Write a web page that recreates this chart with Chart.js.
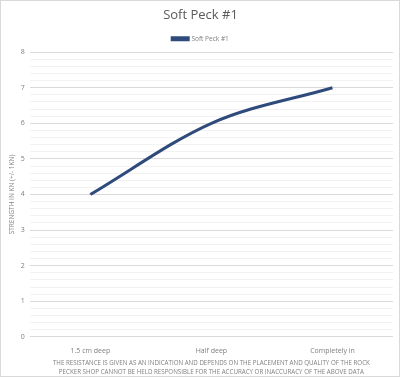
<!DOCTYPE html>
<html>
<head>
<meta charset="utf-8">
<script src="https://cdn.jsdelivr.net/npm/chart.js@4"></script>
<style>
  html, body { margin: 0; padding: 0; background: #fff; }
  #wrap { position: relative; width: 398px; height: 375px; border: 1px solid #d9d9d9; }
</style>
</head>
<body>
<div id="wrap"><canvas id="chart"></canvas></div>
<script>
const depths = ['1.5 cm deep', 'Half deep', 'Completely in'];
const strength = [4, 6, 7];
const seriesName = 'Soft Peck #1';
const yTitle = 'STRENGTH IN KN (+/- 1KN)';
const xTitle = [
    'THE RESISTANCE IS GIVEN AS AN INDICATION AND DEPENDS ON THE PLACEMENT AND QUALITY OF THE ROCK',
    'PECKER SHOP CANNOT BE HELD RESPONSIBLE FOR THE ACCURACY OR INACCURACY OF THE ABOVE DATA'
];

const isMajor = v => Math.abs(v - Math.round(v)) < 1e-6;
const font = "'Open Sans', 'Noto Sans', sans-serif";

const config = {
    type: 'line',
    data: {
        labels: depths,
        datasets: [
            {
                label: seriesName,
                data: strength,
                borderColor: '#2f4b7c',
                backgroundColor: '#2f4b7c',
                borderWidth: 3,
                pointRadius: 0,
                tension: 0.4,
                cubicInterpolationMode: 'monotone'
            }
        ]
    },
    options: {
        responsive: true,
        maintainAspectRatio: false,
        animation: false,
        layout: { padding: { left: 7, right: 6, top: 2, bottom: 0 } },
        scales: {
            y: {
                min: 0,
                max: 8,
                ticks: {
                    stepSize: 0.2,
                    autoSkip: false,
                    color: '#7f7f7f',
                    font: { family: font, size: 7 },
                    padding: 5,
                    callback: v => isMajor(v) ? Math.round(v) : ''
                },
                grid: {
                    drawTicks: false,
                    color: ctx => isMajor(ctx.tick.value) ? '#d9d9d9' : '#f2f2f2',
                    lineWidth: 1
                },
                border: { display: false },
                title: {
                    display: true,
                    text: yTitle,
                    color: '#7f7f7f',
                    font: { family: font, size: 6.5 },
                    padding: { top: 0, bottom: 0 }
                }
            },
            x: {
                offset: true,
                ticks: {
                    color: '#7f7f7f',
                    font: { family: font, size: 7 },
                    padding: 2
                },
                grid: { display: false, offset: true },
                border: { display: false },
                title: {
                    display: true,
                    text: xTitle,
                    color: '#7f7f7f',
                    font: { family: font, size: 6.2, lineHeight: 1.35 },
                    padding: { top: 2, bottom: 0 }
                }
            }
        },
        plugins: {
            title: {
                display: true,
                text: seriesName,
                color: '#595959',
                font: { family: font, size: 13, weight: 'normal' },
                padding: { top: 4, bottom: 8 }
            },
            legend: {
                labels: {
                    color: '#7f7f7f',
                    font: { family: font, size: 6.5 },
                    boxWidth: 16,
                    boxHeight: 2,
                    padding: 5
                }
            },
            tooltip: { enabled: false }
        }
    }
};

const chart = new Chart(document.getElementById('chart'), config);
</script>
</body>
</html>
